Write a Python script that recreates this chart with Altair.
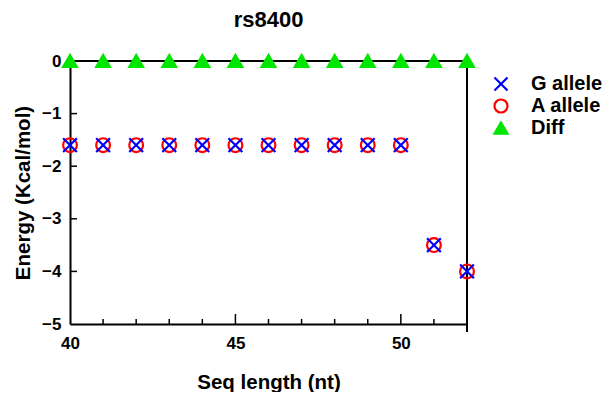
import altair as alt
import pandas as pd

# ---- data ----
seq_len = [40, 41, 42, 43, 44, 45, 46, 47, 48, 49, 50, 51, 52]
g_allele = [-1.6, -1.6, -1.6, -1.6, -1.6, -1.6, -1.6, -1.6, -1.6, -1.6, -1.6, -3.5, -4.0]
a_allele = [-1.6, -1.6, -1.6, -1.6, -1.6, -1.6, -1.6, -1.6, -1.6, -1.6, -1.6, -3.5, -4.0]
diff = [0, 0, 0, 0, 0, 0, 0, 0, 0, 0, 0, 0, 0]
series = ["G allele", "A allele", "Diff"]
x_labels = [40, 45, 50]
y_labels = [-5, -4, -3, -2, -1, 0]
x_minor = [41, 42, 43, 44, 46, 47, 48, 49, 51]
x_major = [45, 50]
y_minor = [-4, -3, -2, -1]

rows = []
for s, vals in (("Diff", diff), ("A allele", a_allele), ("G allele", g_allele)):
    for x, v in zip(seq_len, vals):
        rows.append({"len": x, "energy": v, "series": s})
df = pd.DataFrame(rows)

FONT = "Liberation Sans"
W, H = 397, 263

xscale = alt.Scale(domain=[40, 52], nice=False, zero=False)
yscale = alt.Scale(domain=[-5, 0], nice=False, zero=False)

x_shape = "M-1,-1L1,1M1,-1L-1,1"

points = alt.Chart(df).mark_point(filled=False, opacity=1, size=190, strokeWidth=2.2).encode(
    x=alt.X("len:Q", scale=xscale,
            axis=alt.Axis(values=x_labels, title="Seq length (nt)", ticks=False,
                          domainColor="black", domainWidth=2, labelFont=FONT,
                          labelFontSize=17, labelFontWeight="bold", labelColor="black",
                          labelPadding=11, labelFlush=False, titleFont=FONT, titleFontSize=20.5,
                          titleFontWeight="bold", titleColor="black", titlePadding=21,
                          grid=False, format="d")),
    y=alt.Y("energy:Q", scale=yscale,
            axis=alt.Axis(values=y_labels, title="Energy (Kcal/mol)", ticks=False,
                          domainColor="black", domainWidth=2, labelFont=FONT,
                          labelFontSize=17, labelFontWeight="bold", labelColor="black",
                          labelPadding=9, labelFlush=False, titleFont=FONT, titleFontSize=20.5,
                          titleFontWeight="bold", titleColor="black", titlePadding=8,
                          grid=False, format="d")),
    stroke=alt.Stroke("series:N", scale=alt.Scale(domain=series, range=["#0000ff", "#ff0000", "#00e600"]),
                      legend=alt.Legend(title=None)),
    fill=alt.Fill("series:N", scale=alt.Scale(domain=series, range=["transparent", "transparent", "#00e600"]),
                  legend=alt.Legend(title=None)),
    shape=alt.Shape("series:N", scale=alt.Scale(domain=series, range=[x_shape, "circle", "triangle-up"]),
                    legend=alt.Legend(title=None)),
)

top_line = alt.Chart(pd.DataFrame({"y": [0]})).mark_rule(color="black", strokeWidth=2).encode(
    y=alt.Y("y:Q", scale=yscale), x=alt.value(0), x2=alt.value(W))
right_line = alt.Chart(pd.DataFrame({"x": [52]})).mark_rule(color="black", strokeWidth=2).encode(
    x=alt.X("x:Q", scale=xscale), y=alt.value(0), y2=alt.value(H + 8))
minor_t = alt.Chart(pd.DataFrame({"x": x_minor})).mark_rule(color="black", strokeWidth=1.5).encode(
    x=alt.X("x:Q", scale=xscale), y=alt.value(H), y2=alt.value(H - 5))
major_t = alt.Chart(pd.DataFrame({"x": x_major})).mark_rule(color="black", strokeWidth=1.5).encode(
    x=alt.X("x:Q", scale=xscale), y=alt.value(H), y2=alt.value(H - 10))
y_t = alt.Chart(pd.DataFrame({"y": y_minor})).mark_rule(color="black", strokeWidth=1.5).encode(
    y=alt.Y("y:Q", scale=yscale), x=alt.value(0), x2=alt.value(7))

chart = alt.layer(minor_t, major_t, y_t, top_line, right_line, points).properties(
    width=W, height=H,
    title=alt.TitleParams("rs8400", font=FONT, fontSize=22, fontWeight="bold", color="black",
                          anchor="middle", offset=19),
    autosize=alt.AutoSizeParams(type="none"),
    padding={"left": 62, "top": 53, "right": 136, "bottom": 68},
).configure_view(stroke=None).configure_legend(
    orient="none", legendX=421, legendY=13, labelFont=FONT, labelFontSize=20,
    labelFontWeight="bold", labelColor="black", symbolSize=170, symbolStrokeWidth=2.2,
    labelOffset=20, rowPadding=0, symbolType="circle"
)

chart.save("out.html", embed_options={"renderer": "svg", "actions": False})
